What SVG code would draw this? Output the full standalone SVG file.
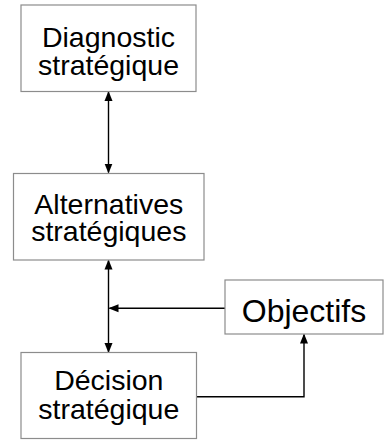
<svg xmlns="http://www.w3.org/2000/svg" width="388" height="440" viewBox="0 0 388 440">
<style>
.box{fill:#fff;stroke:#8c8c8c;stroke-width:1.2}
.t{font-family:"Liberation Sans",Arial,sans-serif;font-size:28.5px;fill:#000;text-anchor:middle}
.big{font-size:32px}
.c{fill:none;stroke:#000;stroke-width:1.4}
</style>
<defs>
<marker id="ah" markerWidth="10" markerHeight="10" refX="9" refY="4" orient="auto-start-reverse" markerUnits="userSpaceOnUse" viewBox="0 0 10 8">
<path d="M0,0 L10,4 L0,8 Z" fill="#000"/>
</marker>
</defs>
<g id="connectors">
<line class="c" x1="108.5" y1="92" x2="108.5" y2="172.5" marker-start="url(#ah)" marker-end="url(#ah)"/>
<line class="c" x1="108.5" y1="260.5" x2="108.5" y2="352" marker-start="url(#ah)" marker-end="url(#ah)"/>
<line class="c" x1="225" y1="308.3" x2="109.5" y2="308.3" marker-end="url(#ah)"/>
<polyline class="c" points="196.7,396.7 304,396.7 304,334.5" marker-end="url(#ah)"/>
</g>
<g id="diagnostic">
<rect class="box" x="21" y="5" width="175" height="86.5"/>
<text class="t" x="108.5" y="47">Diagnostic</text>
<text class="t" x="108.5" y="75">stratégique</text>
</g>
<g id="alternatives">
<rect class="box" x="13.5" y="173.5" width="190.5" height="86.5"/>
<text class="t" x="108.8" y="213.5">Alternatives</text>
<text class="t" x="108.8" y="241">stratégiques</text>
</g>
<g id="objectifs">
<rect class="box" x="225" y="280" width="158" height="54"/>
<text class="t big" x="304" y="321.5">Objectifs</text>
</g>
<g id="decision">
<rect class="box" x="21" y="352.5" width="175.5" height="86"/>
<text class="t" x="108.8" y="390">Décision</text>
<text class="t" x="108.8" y="418.5">stratégique</text>
</g>
</svg>
